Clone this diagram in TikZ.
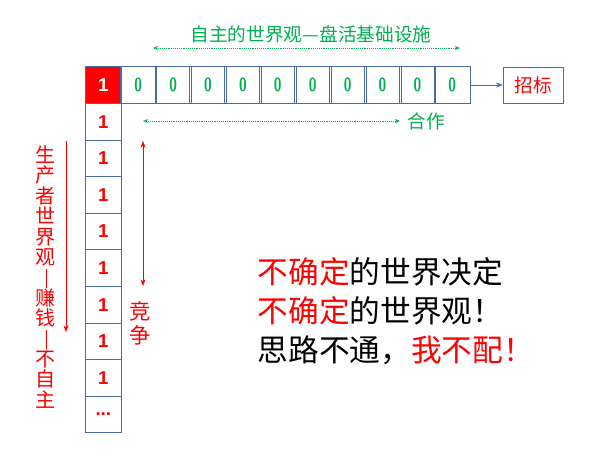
\documentclass[tikz,border=0pt]{standalone}
\usepackage{fontspec}
\setmainfont{Liberation Sans}
\newfontfamily\cjk{Noto Sans CJK SC}
\usetikzlibrary{positioning,arrows.meta}
\definecolor{cellblue}{HTML}{4A6AAA}
\definecolor{mygreen}{HTML}{00B050}
\definecolor{myred}{HTML}{FF0000}
\newcommand{\vbar}{\rule[-2pt]{0.6pt}{14pt}}
\tikzset{
  cell/.style={draw=cellblue, minimum width=36.6*0.75pt, minimum height=36.6*0.75pt, inner sep=0pt, font=\bfseries\fontsize{14}{14}\selectfont},
  lbl/.style={font=\cjk\fontsize{14}{14}\selectfont},
  vlbl/.style={font=\cjk\fontsize{15}{15.3}\selectfont, text width=16pt, align=center, inner sep=0pt},
}
\begin{document}
\begin{tikzpicture}[x=0.75pt, y=-0.75pt]
			\useasboundingbox (0,0) rectangle (600,461);

			% Top row
			\node[cell, fill=myred, text=white] (c0) at (103.3,85) {1};
			\foreach \i in {1,...,10} {
				\node[cell, text=mygreen, font=\sffamily\fontsize{13}{13}\selectfont] (c\i) at (103.3+34.9*\i,85) {\scalebox{0.8}[1.1]{\textbf{0}}};
			}
			\node[draw=cellblue, minimum width=60*0.75pt, minimum height=36*0.75pt, text=myred, lbl] (zb) at (533,85) {招标};
			\draw[-{Stealth[length=5pt]}, cellblue] (c10.east) -- (zb.west);

			% Left column
			\foreach \j in {1,...,8} {
				\node[cell, text=myred] (r\j) at (103.3,85+36.6*\j) {1};
			}
			\node[cell, text=myred] (r9) at (103.3,85+36.6*9) {...};

			% Green arrows
			\coordinate (ga) at (153,48);
			\coordinate (gb) at (460,48);
			\draw[{Stealth[length=4pt]}-{Stealth[length=4pt]}, mygreen, densely dotted] (ga) -- (gb);
			\node[lbl, text=mygreen] (title) at (311,34) {自主的世界观—盘活基础设施};
			\coordinate (ha) at (143,121);
			\coordinate (hb) at (400,121);
			\draw[{Stealth[length=4pt]}-{Stealth[length=4pt]}, mygreen, densely dotted] (ha) -- (hb);
			\node[lbl, text=mygreen, right=2pt of hb] (hz) {合作};

			% Red arrows
			\coordinate (pa) at (66,141);
			\coordinate (pb) at (66,332);
			\draw[-{Stealth[length=5pt]}, myred] (pa) -- (pb);
			\node[vlbl, text=myred] (prod) at (46,277) {生\\产\\者\\世\\界\\观\\\vbar\\赚\\钱\\\vbar\\不\\自\\主};
			\coordinate (ja) at (143,141);
			\coordinate (jb) at (143,286);
			\draw[{Stealth[length=5pt]}-{Stealth[length=5pt]}, myred] (ja) -- (jb);
			\node[vlbl, text=myred, font=\cjk\fontsize{16}{18}\selectfont] (jz) at (140,323) {竞\\争};

			% Big text
			\node[anchor=west, font=\cjk\fontsize{23}{23}\selectfont] (t1) at (253,272) {\textcolor{myred}{不确定}的世界决定};
			\node[anchor=west, font=\cjk\fontsize{23}{23}\selectfont] (t2) at (253,311) {\textcolor{myred}{不确定}的世界观！};
			\node[anchor=west, font=\cjk\fontsize{23}{23}\selectfont] (t3) at (253,350) {思路不通，\textcolor{myred}{我不配！}};
		\end{tikzpicture}
\end{document}
